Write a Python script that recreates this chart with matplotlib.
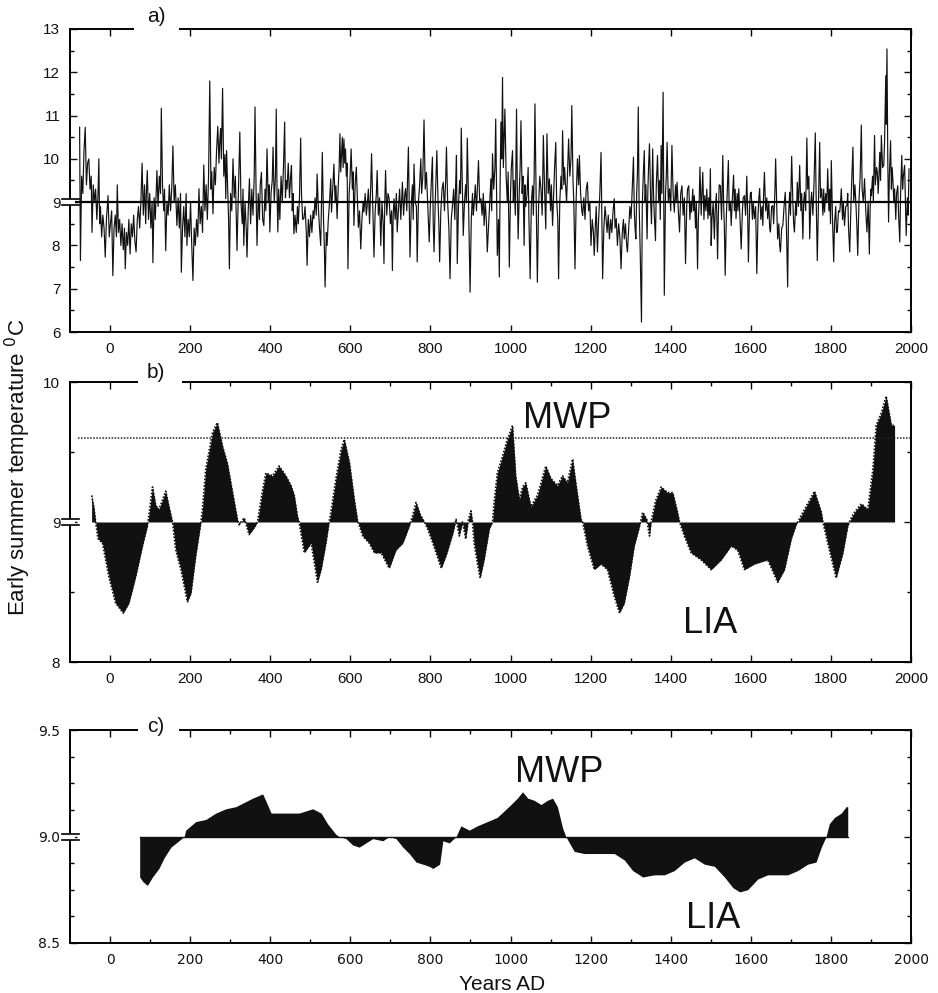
import matplotlib.pyplot as plt
from matplotlib.patches import Rectangle
from matplotlib.ticker import MultipleLocator, FixedLocator

plt.rcParams['font.family'] = ['Liberation Sans', 'DejaVu Sans']

# a) annual early summer temperature (peak/trough points)
a_years = [
    -76, -74, -71, -68, -65, -62, -59, -56, -53, -50, -47, -45, -42, -39, -36, -33, -30, -28, -26, -24, -21, -18, -15, -12, -9, -5, -2, 1,
    4, 7, 10, 13, 16, 18, 21, 24, 27, 30, 33, 36, 38, 41, 44, 47, 50, 53, 56, 59, 62, 65, 68, 71, 74, 77, 80, 83, 86, 89, 91, 93, 96, 99,
    102, 105, 107, 110, 113, 117, 120, 123, 126, 128, 131, 134, 136, 139, 142, 145, 148, 151, 154, 157, 160, 163, 167, 170, 173, 176, 178, 181, 184, 187, 190, 192, 195, 198, 201, 204,
    207, 210, 213, 216, 219, 222, 225, 228, 231, 234, 237, 240, 243, 246, 249, 252, 254, 257, 260, 263, 266, 269, 272, 274, 276, 278, 281, 284, 287, 289, 291, 294, 296, 298,
    301, 304, 307, 310, 313, 317, 320, 322, 324, 327, 330, 332, 334, 337, 340, 342, 345, 348, 351, 354, 357, 360, 362, 365, 367, 370, 373, 375, 378, 381, 384, 387, 389, 392, 395, 397, 399,
    402, 405, 407, 410, 413, 415, 417, 419, 421, 424, 427, 430, 433, 436, 438, 440, 442, 445, 448, 451, 453, 455, 457, 459, 462, 465, 468, 470, 473, 476, 478, 481, 484, 487, 490, 492, 495, 498, 501, 504,
    507, 509, 512, 515, 517, 520, 523, 526, 528, 530, 533, 535, 537, 540, 542, 545, 548, 551, 553, 556, 559, 562, 564, 567, 570, 572, 574, 576, 578, 580, 582, 584, 586, 588, 590, 592, 594, 597, 599,
    602, 605, 607, 609, 612, 615, 618, 620, 623, 626, 629, 632, 634, 637, 640, 642, 645, 648, 651, 653, 656, 659, 662, 665, 667, 670, 673, 676, 679, 682, 684, 686, 688, 691, 694, 697, 700,
    703, 705, 707, 709, 712, 715, 717, 720, 723, 726, 728, 730, 733, 736, 738, 741, 743, 745, 747, 749, 752, 755, 757, 759, 762, 765, 767, 770, 773, 776, 778, 781, 784, 787, 790, 793, 795, 797, 800,
    803, 805, 807, 809, 812, 814, 816, 819, 821, 823, 826, 829, 832, 835, 838, 840, 843, 846, 849, 852, 855, 858, 861, 863, 865, 867, 870, 873, 875, 877, 880, 882, 885, 888, 890, 892, 895, 897, 899,
    902, 905, 907, 909, 912, 915, 918, 920, 923, 926, 929, 932, 934, 937, 940, 942, 945, 948, 951, 953, 955, 958, 961, 963, 965, 967, 970, 972, 974, 976, 978, 980, 982, 984, 986, 989, 992, 994, 997, 1000,
    1002, 1005, 1007, 1009, 1012, 1015, 1017, 1019, 1022, 1024, 1026, 1029, 1031, 1034, 1036, 1038, 1041, 1044, 1046, 1049, 1052, 1055, 1057, 1059, 1061, 1064, 1067, 1070, 1073, 1076, 1079, 1082, 1085, 1088, 1091, 1094, 1097, 1100,
    1102, 1105, 1108, 1110, 1113, 1115, 1118, 1120, 1123, 1126, 1128, 1130, 1133, 1135, 1137, 1140, 1143, 1145, 1148, 1151, 1153, 1156, 1158, 1161, 1164, 1167, 1170, 1172, 1175, 1178, 1180, 1183, 1186, 1189, 1192, 1195, 1198,
    1201, 1204, 1207, 1209, 1212, 1214, 1217, 1220, 1223, 1226, 1228, 1230, 1233, 1236, 1238, 1241, 1244, 1247, 1250, 1253, 1256, 1259, 1261, 1264, 1267, 1270, 1273, 1276, 1279, 1282, 1284, 1287, 1290, 1292, 1295, 1298, 1301,
    1304, 1307, 1309, 1311, 1313, 1315, 1317, 1319, 1321, 1324, 1327, 1329, 1331, 1334, 1336, 1338, 1341, 1343, 1345, 1347, 1350, 1352, 1355, 1357, 1359, 1362, 1364, 1367, 1370, 1372, 1374, 1376, 1378, 1381, 1384, 1387, 1389, 1391, 1394, 1397, 1400,
    1403, 1406, 1409, 1412, 1414, 1416, 1419, 1422, 1425, 1428, 1431, 1434, 1437, 1440, 1442, 1445, 1448, 1450, 1452, 1455, 1457, 1459, 1462, 1464, 1467, 1469, 1471, 1473, 1476, 1478, 1480, 1483, 1485, 1488, 1490, 1493, 1495, 1497, 1499,
    1501, 1503, 1506, 1509, 1511, 1514, 1517, 1519, 1521, 1524, 1527, 1530, 1532, 1534, 1536, 1539, 1541, 1544, 1546, 1549, 1551, 1554, 1557, 1559, 1561, 1563, 1566, 1568, 1570, 1573, 1576, 1579, 1581, 1584, 1587, 1590, 1592, 1594, 1597, 1599,
    1601, 1604, 1606, 1609, 1612, 1615, 1618, 1620, 1622, 1625, 1628, 1630, 1632, 1634, 1637, 1640, 1642, 1645, 1647, 1649, 1652, 1655, 1657, 1660, 1662, 1665, 1667, 1670, 1672, 1674, 1677, 1680, 1683, 1686, 1689, 1692, 1694, 1697, 1699,
    1702, 1705, 1707, 1709, 1712, 1714, 1716, 1719, 1722, 1725, 1727, 1730, 1732, 1734, 1737, 1740, 1742, 1745, 1747, 1750, 1752, 1755, 1758, 1761, 1763, 1766, 1769, 1772, 1774, 1777, 1780, 1782, 1784, 1787, 1790, 1792, 1795, 1797, 1799,
    1801, 1804, 1807, 1809, 1812, 1814, 1816, 1819, 1822, 1824, 1826, 1829, 1831, 1834, 1837, 1840, 1842, 1844, 1847, 1850, 1852, 1855, 1857, 1860, 1863, 1865, 1867, 1870, 1873, 1876, 1878, 1881, 1884, 1887, 1890, 1893, 1896, 1898, 1900,
    1901, 1904, 1906, 1909, 1911, 1914, 1916, 1918, 1920, 1922, 1924, 1926, 1929, 1932, 1934, 1937, 1938, 1940, 1942, 1944, 1946, 1949, 1951, 1953, 1955, 1957, 1959, 1962, 1964, 1967, 1969, 1972, 1974, 1977, 1979, 1981, 1984, 1986, 1988, 1991, 1993, 1995,
]
a_temps = [
    10.73, 7.65, 9.6, 9.2, 10.2, 10.73, 9.4, 9.9, 10.0, 9.3, 9.6, 8.3, 9.4, 9.0, 9.3, 8.6, 9.2, 10.0, 8.5, 8.9, 8.2, 8.7, 8.4, 7.73, 8.6, 9.15, 8.2, 8.5,
    8.8, 7.3, 8.4, 8.7, 8.2, 9.4, 8.3, 8.6, 8.0, 8.5, 7.9, 8.4, 7.46, 8.3, 8.0, 8.6, 7.8, 8.5, 8.2, 8.7, 8.1, 7.85, 8.6, 8.9, 8.4, 9.0, 9.9, 8.7, 9.4, 8.5, 9.3, 9.73, 8.6, 9.2,
    8.4, 9.0, 7.6, 9.1, 8.6, 9.73, 8.9, 9.6, 9.2, 11.17, 9.4, 8.8, 9.3, 7.88, 9.0, 8.7, 9.4, 8.8, 9.3, 10.3, 9.0, 9.4, 8.46, 9.1, 8.4, 9.2, 7.38, 8.4, 8.9, 8.2, 9.2, 8.0, 8.6, 8.2, 9.0, 8.0,
    7.19, 8.4, 8.0, 8.6, 8.2, 9.31, 8.5, 8.9, 8.3, 9.86, 8.8, 9.4, 8.6, 9.6, 11.8, 9.3, 9.7, 8.73, 9.8, 9.4, 10.2, 10.75, 9.9, 10.4, 10.7, 10.0, 11.63, 9.6, 10.1, 9.08, 10.19, 9.2, 8.6, 7.46,
    9.2, 8.8, 10.0, 9.1, 9.6, 7.88, 9.0, 9.8, 10.62, 9.0, 8.5, 9.3, 8.0, 9.0, 8.4, 7.73, 8.8, 9.54, 8.5, 9.3, 8.7, 9.6, 11.2, 9.0, 8.0, 9.2, 8.6, 9.4, 9.69, 8.6, 8.46, 9.3, 8.8, 10.23, 9.0, 9.4, 8.31,
    9.2, 9.5, 10.27, 9.0, 9.6, 11.15, 9.2, 8.31, 9.3, 8.6, 9.6, 9.0, 9.8, 10.85, 9.1, 9.5, 9.3, 9.9, 9.1, 9.6, 9.85, 8.8, 9.2, 8.27, 8.7, 8.3, 8.9, 8.5, 9.1, 10.48, 9.2, 8.6, 8.62, 8.9, 8.3, 7.54, 8.6, 8.2, 8.7, 8.3,
    8.8, 8.62, 9.1, 8.7, 9.65, 8.9, 8.4, 8.0, 9.0, 10.15, 8.6, 8.0, 7.04, 8.3, 8.0, 8.6, 9.0, 9.54, 8.77, 9.3, 9.88, 9.0, 9.38, 8.62, 9.4, 9.8, 10.58, 9.7, 10.1, 10.5, 9.8, 10.46, 9.9, 10.23, 9.6, 9.9, 7.46, 9.2, 9.5,
    10.23, 9.3, 9.7, 8.46, 9.4, 9.81, 9.0, 8.42, 8.8, 7.92, 8.6, 9.0, 8.77, 9.2, 8.7, 8.92, 9.3, 8.5, 9.4, 10.12, 8.9, 7.73, 8.8, 9.2, 9.73, 8.7, 9.1, 8.0, 9.0, 8.5, 7.58, 9.0, 9.73, 8.7, 9.2, 9.08, 8.5,
    8.8, 7.42, 8.7, 9.08, 8.6, 9.2, 8.31, 8.8, 9.3, 8.6, 9.0, 9.46, 8.7, 9.2, 9.31, 8.8, 9.6, 10.27, 9.0, 7.73, 8.9, 9.4, 8.6, 9.88, 9.0, 8.9, 7.62, 9.0, 9.4, 10.0, 9.2, 9.6, 10.9, 9.3, 9.69, 9.0, 8.6, 8.08, 9.0,
    9.6, 10.04, 8.5, 7.85, 9.0, 9.6, 10.19, 9.0, 8.5, 7.62, 8.8, 9.3, 9.46, 8.8, 9.5, 10.27, 9.0, 8.4, 7.23, 8.6, 8.92, 9.3, 8.6, 9.4, 10.08, 7.58, 8.9, 9.5, 9.2, 10.71, 9.2, 8.23, 9.0, 9.4, 9.0, 10.48, 9.1, 8.0, 6.92,
    8.6, 9.2, 8.7, 8.92, 9.4, 8.8, 9.5, 9.96, 9.0, 9.08, 8.7, 9.2, 8.46, 9.0, 8.5, 7.85, 8.4, 9.0, 9.54, 8.8, 10.12, 9.3, 9.8, 10.92, 9.4, 7.77, 8.6, 7.27, 9.4, 10.85, 10.0, 11.88, 9.8, 10.5, 11.15, 9.6, 9.0, 9.7, 7.5, 9.2,
    9.8, 10.19, 9.0, 9.5, 8.7, 11.15, 9.3, 8.15, 9.3, 9.8, 10.88, 9.2, 9.6, 8.0, 9.4, 8.9, 9.15, 9.8, 8.6, 7.23, 9.0, 9.38, 8.7, 9.6, 11.27, 9.1, 7.15, 8.9, 9.6, 9.31, 8.7, 10.54, 9.3, 8.38, 10.58, 9.2, 9.54, 8.8,
    9.4, 8.46, 9.3, 9.8, 10.38, 9.1, 8.6, 7.23, 9.0, 9.6, 9.3, 10.65, 9.4, 9.8, 9.46, 9.0, 9.9, 10.46, 9.6, 10.0, 11.23, 9.5, 9.0, 7.46, 9.1, 10.0, 9.4, 10.08, 9.2, 8.8, 8.69, 9.1, 8.6, 9.3, 9.46, 8.8, 9.0,
    8.0, 8.6, 8.3, 7.77, 8.5, 8.9, 7.85, 8.6, 9.2, 10.15, 8.6, 7.23, 8.4, 8.9, 8.69, 8.3, 8.7, 8.15, 8.6, 8.3, 8.8, 9.08, 8.4, 8.62, 8.0, 8.5, 8.2, 7.46, 8.3, 8.6, 8.15, 8.5, 8.0, 7.85, 8.4, 8.9, 8.62,
    9.3, 10.04, 8.8, 8.4, 8.15, 9.2, 9.7, 11.2, 9.0, 7.77, 6.23, 8.9, 9.5, 10.19, 9.0, 9.4, 8.15, 9.3, 9.9, 10.35, 9.0, 8.5, 10.23, 9.2, 8.7, 8.11, 9.4, 10.08, 9.0, 9.5, 8.6, 10.31, 9.2, 11.54, 6.85, 9.2, 9.6, 10.38, 9.0, 9.31, 8.8,
    10.31, 9.2, 8.77, 9.4, 9.0, 9.46, 8.8, 8.31, 9.2, 9.38, 8.7, 9.1, 7.58, 8.9, 9.3, 9.38, 8.6, 9.0, 8.77, 9.3, 8.8, 9.15, 8.4, 9.0, 7.46, 8.6, 9.0, 9.81, 8.7, 9.2, 9.69, 8.6, 9.15, 8.8, 9.3, 8.62, 9.1, 8.7, 9.77,
    8.0, 8.6, 9.0, 8.15, 8.8, 9.2, 7.69, 8.7, 9.4, 9.38, 8.6, 10.08, 9.0, 8.4, 7.31, 8.7, 9.2, 9.96, 8.8, 9.0, 8.46, 9.1, 9.62, 8.8, 9.3, 8.62, 9.2, 8.8, 9.31, 8.6, 7.92, 8.8, 9.1, 9.15, 8.7, 9.6, 8.8, 7.62, 8.9, 9.2,
    9.23, 8.6, 9.0, 8.62, 8.9, 7.35, 8.7, 9.1, 9.31, 8.6, 8.9, 8.46, 9.2, 9.69, 8.8, 9.1, 8.62, 9.0, 8.4, 8.31, 8.9, 8.92, 8.5, 9.2, 10.0, 8.8, 8.15, 8.5, 8.0, 7.85, 8.4, 8.46, 8.9, 9.23, 8.4, 7.04, 8.6, 9.23, 8.7,
    10.06, 9.0, 8.5, 8.31, 9.0, 8.7, 9.46, 8.9, 9.85, 8.8, 9.2, 8.15, 9.0, 9.23, 8.8, 10.48, 9.3, 9.6, 8.15, 9.0, 9.23, 8.7, 9.5, 10.6, 9.2, 7.65, 9.0, 10.38, 9.1, 9.31, 8.7, 9.3, 8.77, 9.2, 9.0, 9.77, 8.8, 9.3, 8.5,
    9.96, 8.6, 7.62, 8.5, 8.9, 8.3, 8.31, 8.8, 8.77, 9.0, 9.31, 8.6, 9.0, 8.46, 8.9, 8.92, 9.2, 8.4, 7.85, 8.9, 9.5, 10.27, 9.0, 9.4, 8.85, 8.4, 7.77, 9.0, 9.6, 10.78, 9.3, 9.0, 9.54, 8.8, 8.31, 9.0, 7.8, 8.9, 9.3,
    9.15, 9.6, 9.0, 10.54, 9.4, 9.8, 9.69, 9.2, 9.6, 10.15, 9.5, 10.54, 9.8, 9.85, 10.4, 11.92, 10.8, 12.54, 10.0, 8.54, 9.6, 10.42, 9.3, 9.8, 9.46, 9.0, 9.31, 8.6, 9.2, 9.38, 8.7, 8.08, 9.2, 10.08, 9.3, 9.6, 9.85, 9.0, 8.23, 9.1, 8.7, 9.77,
]

# b) smoothed series
b_years = [-46, -40, -36, -30, -19, -3, 14, 33, 47, 64, 81, 93, 97, 106, 114, 122, 130, 139, 148, 156,
           164, 177, 189, 193, 202, 214, 227, 231, 239, 256, 268, 281, 293, 306, 318, 322, 335, 347, 360, 368,
           381, 389, 406, 422, 439, 452, 460, 468, 472, 485, 502, 518, 527, 539, 547, 552, 564, 577, 585, 598,
           610, 618, 631, 647, 660, 677, 697, 714, 731, 747, 756, 764, 775, 785, 793, 806, 827, 839, 856, 864,
           872, 880, 888, 895, 901, 905, 909, 917, 924, 934, 947, 955, 959, 967, 980, 992, 1005, 1013, 1022, 1030,
           1038, 1051, 1067, 1078, 1088, 1101, 1117, 1130, 1142, 1155, 1163, 1176, 1180, 1192, 1209, 1226, 1242, 1259, 1272, 1284,
           1297, 1309, 1322, 1330, 1340, 1347, 1351, 1362, 1376, 1392, 1405, 1417, 1422, 1434, 1451, 1476, 1501, 1526, 1551, 1567,
           1584, 1609, 1642, 1667, 1684, 1701, 1713, 1717, 1734, 1759, 1776, 1780, 1784, 1792, 1813, 1830, 1842, 1846, 1851, 1859,
           1876, 1892, 1905, 1913, 1926, 1938, 1951, 1959]
b_temps = [9.19, 9.1, 9.0, 8.88, 8.85, 8.61, 8.42, 8.35, 8.42, 8.61, 8.83, 8.97, 9.05, 9.25, 9.12, 9.09, 9.15, 9.22, 9.1, 9.0,
           8.8, 8.66, 8.49, 8.43, 8.49, 8.76, 9.0, 9.1, 9.38, 9.64, 9.71, 9.54, 9.42, 9.21, 9.02, 8.98, 9.03, 8.91, 8.96, 9.0,
           9.23, 9.35, 9.33, 9.40, 9.33, 9.26, 9.19, 9.04, 9.0, 8.78, 8.85, 8.57, 8.66, 8.85, 9.0, 9.08, 9.31, 9.52, 9.59, 9.42,
           9.16, 9.01, 8.9, 8.85, 8.78, 8.78, 8.67, 8.8, 8.85, 8.97, 9.05, 9.14, 9.05, 9.0, 8.95, 8.85, 8.67, 8.76, 8.92, 9.02,
           8.9, 9.0, 8.88, 9.02, 9.08, 9.0, 8.85, 8.71, 8.6, 8.73, 8.95, 9.0, 9.14, 9.35, 9.47, 9.59, 9.69, 9.33, 9.16, 9.25,
           9.28, 9.11, 9.19, 9.3, 9.40, 9.31, 9.26, 9.33, 9.28, 9.45, 9.28, 9.02, 9.0, 8.83, 8.66, 8.70, 8.66, 8.47, 8.35, 8.42,
           8.61, 8.83, 8.97, 9.07, 9.02, 8.9, 9.0, 9.15, 9.25, 9.21, 9.21, 9.07, 9.0, 8.9, 8.78, 8.73, 8.66, 8.73, 8.83, 8.80,
           8.66, 8.70, 8.73, 8.57, 8.66, 8.88, 8.98, 9.0, 9.09, 9.22, 9.07, 9.0, 8.95, 8.85, 8.6, 8.78, 8.97, 9.0, 9.03, 9.07,
           9.13, 9.09, 9.38, 9.69, 9.78, 9.90, 9.69, 9.69]
mwp_level = 9.6

# c) long-term smoothed series
c_years = [74, 81, 93, 106, 122, 135, 152, 172, 185, 189, 214, 239, 264, 289, 314, 335, 356, 381, 393, 402,
           422, 447, 472, 506, 527, 543, 564, 572, 589, 606, 622, 639, 656, 681, 697, 714, 731, 747, 764, 781,
           797, 806, 823, 831, 847, 864, 876, 897, 917, 942, 967, 984, 1001, 1017, 1030, 1043, 1059, 1076, 1092, 1105,
           1117, 1130, 1138, 1159, 1184, 1209, 1234, 1259, 1284, 1305, 1330, 1359, 1384, 1409, 1434, 1459, 1484, 1509, 1534, 1555,
           1572, 1592, 1617, 1642, 1667, 1692, 1717, 1742, 1763, 1776, 1788, 1796, 1809, 1826, 1838, 1842]
c_temps = [8.81, 8.79, 8.77, 8.81, 8.85, 8.90, 8.95, 8.98, 9.0, 9.03, 9.07, 9.08, 9.11, 9.13, 9.14, 9.16, 9.18, 9.2, 9.15, 9.11,
           9.11, 9.11, 9.11, 9.13, 9.11, 9.06, 9.01, 9.0, 8.99, 8.96, 8.95, 8.97, 8.99, 8.98, 9.0, 8.99, 8.95, 8.92, 8.88, 8.87,
           8.86, 8.85, 8.87, 8.98, 8.97, 9.0, 9.05, 9.03, 9.05, 9.07, 9.09, 9.12, 9.15, 9.18, 9.21, 9.18, 9.17, 9.15, 9.17, 9.18,
           9.14, 9.04, 9.0, 8.93, 8.92, 8.92, 8.92, 8.92, 8.89, 8.84, 8.81, 8.82, 8.82, 8.84, 8.88, 8.90, 8.87, 8.86, 8.81, 8.76,
           8.74, 8.75, 8.80, 8.82, 8.82, 8.82, 8.84, 8.87, 8.88, 8.95, 9.0, 9.06, 9.09, 9.11, 9.14, 9.14]

x_ticks = list(range(0, 2001, 200))
x_minor = list(range(100, 2000, 200))
W, H = 938, 993


def frame(ax, ylim, gap, minor_x, tick_font, tick_size):
    ax.set_xlim(-100, 2000)
    ax.set_ylim(*ylim)
    ax.xaxis.set_major_locator(FixedLocator(x_ticks))
    if minor_x:
        ax.xaxis.set_minor_locator(FixedLocator(x_minor))
    ax.tick_params(which='major', direction='in', top=False, right=True, length=5, width=1,
                   labelsize=tick_size, pad=7, colors='#111111')
    ax.tick_params(which='minor', direction='in', top=False, right=True, length=3, width=1)
    for lab in ax.get_xticklabels() + ax.get_yticklabels():
        lab.set_family(tick_font)
    for s in ['left', 'right', 'bottom']:
        ax.spines[s].set_linewidth(1.4)
    ax.spines['top'].set_visible(False)
    # top ticks, leaving the space of the panel letter free
    lo = ax.transAxes.transform((gap[0], 1))[0]
    hi = ax.transAxes.transform((gap[1], 1))[0]
    to_data = ax.transData.inverted()
    g0, g1 = to_data.transform((lo, 0))[0], to_data.transform((hi, 0))[0]
    top = ax.secondary_xaxis('top')
    top.xaxis.set_major_locator(FixedLocator([t for t in x_ticks if not g0 < t < g1]))
    if minor_x:
        top.xaxis.set_minor_locator(FixedLocator([t for t in x_minor if not g0 < t < g1]))
    top.tick_params(which='major', direction='in', length=5, width=1, labeltop=False)
    top.tick_params(which='minor', direction='in', length=3, width=1)
    top.spines['top'].set_visible(False)
    # top frame line broken for the panel label
    ax.plot([0, gap[0]], [1, 1], transform=ax.transAxes, color='k', lw=1.4, clip_on=False)
    ax.plot([gap[1], 1], [1, 1], transform=ax.transAxes, color='k', lw=1.4, clip_on=False)
    # axis break marks at 9
    per_px = (ylim[1] - ylim[0]) / (ax.get_position().height * H)
    tr = ax.get_yaxis_transform()
    ax.add_patch(Rectangle((-0.006, 9 - 3 * per_px), 0.012, 6 * per_px, transform=tr,
                           facecolor='white', edgecolor='none', clip_on=False, zorder=5))
    for d in (-3, 3):
        ax.plot([-0.009, 0.011], [9 + d * per_px] * 2, transform=tr, color='k', lw=1.2,
                clip_on=False, zorder=6)


fig = plt.figure(figsize=(W / 100, H / 100), dpi=100)
left, width = 70 / W, 841 / W
ax_a = fig.add_axes([left, 1 - 332 / H, width, 303 / H])
ax_b = fig.add_axes([left, 1 - 662 / H, width, 280 / H])
ax_c = fig.add_axes([left, 1 - 943 / H, width, 213 / H])

# a)
ax_a.plot(a_years, a_temps, color='#111111', lw=0.85)
ax_a.axhline(9, color='k', lw=1.6)
ax_a.yaxis.set_major_locator(MultipleLocator(1))
ax_a.yaxis.set_minor_locator(MultipleLocator(0.5))
frame(ax_a, (6, 13), (0.075, 0.131), False, 'Liberation Sans', 11)

# b)
ax_b.fill_between(b_years, b_temps, 9, color='#111111', lw=0)
ax_b.plot(b_years, b_temps, color='#111111', lw=1.2, ls=(0, (1, 1)))
ax_b.axhline(mwp_level, xmin=0.01, color='#222222', lw=1.1, ls=(0, (1, 1)))
ax_b.yaxis.set_major_locator(MultipleLocator(1))
ax_b.yaxis.set_minor_locator(MultipleLocator(0.5))
frame(ax_b, (8, 10), (0.080, 0.134), True, 'Liberation Sans', 11)
ax_b.text(1030, 9.67, 'MWP', fontsize=26, va='baseline', color='#111111')
ax_b.text(1430, 8.21, 'LIA', fontsize=26, va='baseline', color='#111111')

# c)
ax_c.fill_between(c_years, c_temps, 9, color='#111111', lw=0)
ax_c.plot([c_years[0], c_years[-1]], [9, 9], color='#111111', lw=1)
ax_c.set_yticks([8.5, 9.0, 9.5])
ax_c.set_yticklabels(['8.5', '9.0', '9.5'])
ax_c.yaxis.set_minor_locator(MultipleLocator(0.125))
frame(ax_c, (8.5, 9.5), (0.080, 0.131), True, 'DejaVu Sans', 10)
ax_c.text(1012, 9.256, 'MWP', fontsize=26, va='baseline', color='#111111')
ax_c.text(1437, 8.57, 'LIA', fontsize=26, va='baseline', color='#111111')

# panel letters
for lab, ymid in [('a)', 16), ('b)', 373), ('c)', 727)]:
    fig.text(147 / W, 1 - ymid / H, lab, fontsize=15, va='center', ha='left', color='#111111')

fig.text(18 / W, 1 - 467 / H, 'Early summer temperature $^0$C', rotation=90,
         va='center', ha='center', fontsize=16, color='#111111')
fig.text(502 / W, 1 - 985 / H, 'Years AD', ha='center', va='center', fontsize=15, color='#111111')

fig.savefig('out.png', dpi=100)
